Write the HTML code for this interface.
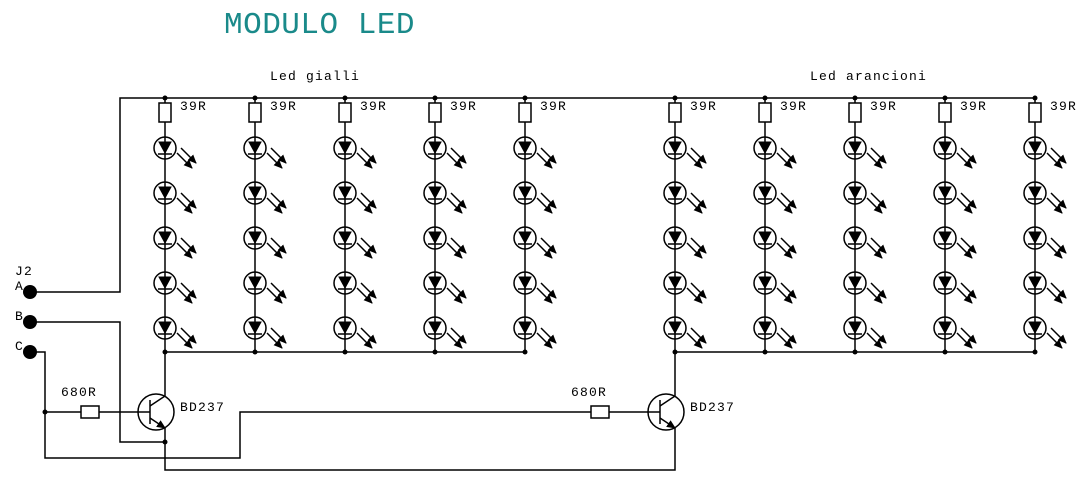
<!DOCTYPE html>
<html><head><style>body{margin:0;background:#fff}svg{display:block}</style></head><body>
<svg width="1092" height="489" viewBox="0 0 1092 489" xmlns="http://www.w3.org/2000/svg" font-family="Liberation Mono, monospace">
<defs>
<marker id="ah" markerWidth="9" markerHeight="8" refX="8" refY="4" orient="auto" markerUnits="userSpaceOnUse"><path d="M0,0L9,4L0,8z" fill="#000"/></marker>
<g id="led" stroke="#000" stroke-width="1.5" fill="none">
<circle cx="0" cy="0" r="11"/>
<path d="M-6,-6L6,-6L0,5z" fill="#000" stroke-width="1"/>
<line x1="-7" y1="6" x2="7" y2="6"/>
<line x1="12" y1="5" x2="27" y2="20" marker-end="url(#ah)"/>
<line x1="16" y1="0" x2="31" y2="15" marker-end="url(#ah)"/>
</g>
<g id="col" stroke="#000" stroke-width="1.5" fill="none">
<line x1="0" y1="98" x2="0" y2="352"/>
<rect x="-6" y="103" width="12" height="19" fill="#fff"/>
<circle cx="0" cy="98" r="2.5" fill="#000" stroke="none"/>
<circle cx="0" cy="352" r="2.5" fill="#000" stroke="none"/>
<use href="#led" y="148"/><use href="#led" y="193"/><use href="#led" y="238"/><use href="#led" y="283"/><use href="#led" y="328"/>
</g>
<g id="tr" stroke="#000" stroke-width="1.5" fill="none">
<circle cx="-9" cy="0" r="18"/>
<line x1="-15" y1="-12" x2="-15" y2="12"/>
<line x1="-15" y1="-6" x2="0" y2="-16"/>
<line x1="-15" y1="6" x2="0" y2="16" marker-end="url(#ah)"/>
</g>
</defs>
<text x="224" y="33" font-size="31" fill="#1a8a8a" letter-spacing="0.5">MODULO LED</text>
<g font-size="13" fill="#000" letter-spacing="1.2">
<text x="270" y="80">Led gialli</text>
<text x="810" y="80">Led arancioni</text>
<text x="180" y="110">39R</text><text x="270" y="110">39R</text><text x="360" y="110">39R</text><text x="450" y="110">39R</text><text x="540" y="110">39R</text>
<text x="690" y="110">39R</text><text x="780" y="110">39R</text><text x="870" y="110">39R</text><text x="960" y="110">39R</text><text x="1050" y="110">39R</text>
<text x="180" y="411">BD237</text><text x="690" y="411">BD237</text>
<text x="61" y="396">680R</text><text x="571" y="396">680R</text>
<text x="15" y="275">J2</text><text x="15" y="290">A</text><text x="15" y="320">B</text><text x="15" y="350">C</text>
</g>
<g stroke="#000" stroke-width="1.5" fill="none">
<polyline points="30,292 120,292 120,98 1035,98"/>
<line x1="165" y1="352" x2="525" y2="352"/>
<line x1="675" y1="352" x2="1035" y2="352"/>
<polyline points="30,322 120,322 120,442 165,442"/>
<polyline points="30,352 45,352 45,458 240,458 240,412 591,412"/>
<line x1="45" y1="412" x2="150" y2="412"/>
<line x1="609" y1="412" x2="660" y2="412"/>
<line x1="165" y1="352" x2="165" y2="396"/>
<polyline points="165,428 165,470 675,470 675,428"/>
<line x1="675" y1="352" x2="675" y2="396"/>
<rect x="81" y="406" width="18" height="12" fill="#fff"/>
<rect x="591" y="406" width="18" height="12" fill="#fff"/>
</g>
<use href="#col" x="165"/><use href="#col" x="255"/><use href="#col" x="345"/><use href="#col" x="435"/><use href="#col" x="525"/>
<use href="#col" x="675"/><use href="#col" x="765"/><use href="#col" x="855"/><use href="#col" x="945"/><use href="#col" x="1035"/>
<use href="#tr" x="165" y="412"/><use href="#tr" x="675" y="412"/>
<g fill="#000">
<circle cx="30" cy="292" r="7"/><circle cx="30" cy="322" r="7"/><circle cx="30" cy="352" r="7"/>
<circle cx="45" cy="412" r="2.5"/><circle cx="165" cy="442" r="2.5"/>
</g>
</svg>
</body></html>
